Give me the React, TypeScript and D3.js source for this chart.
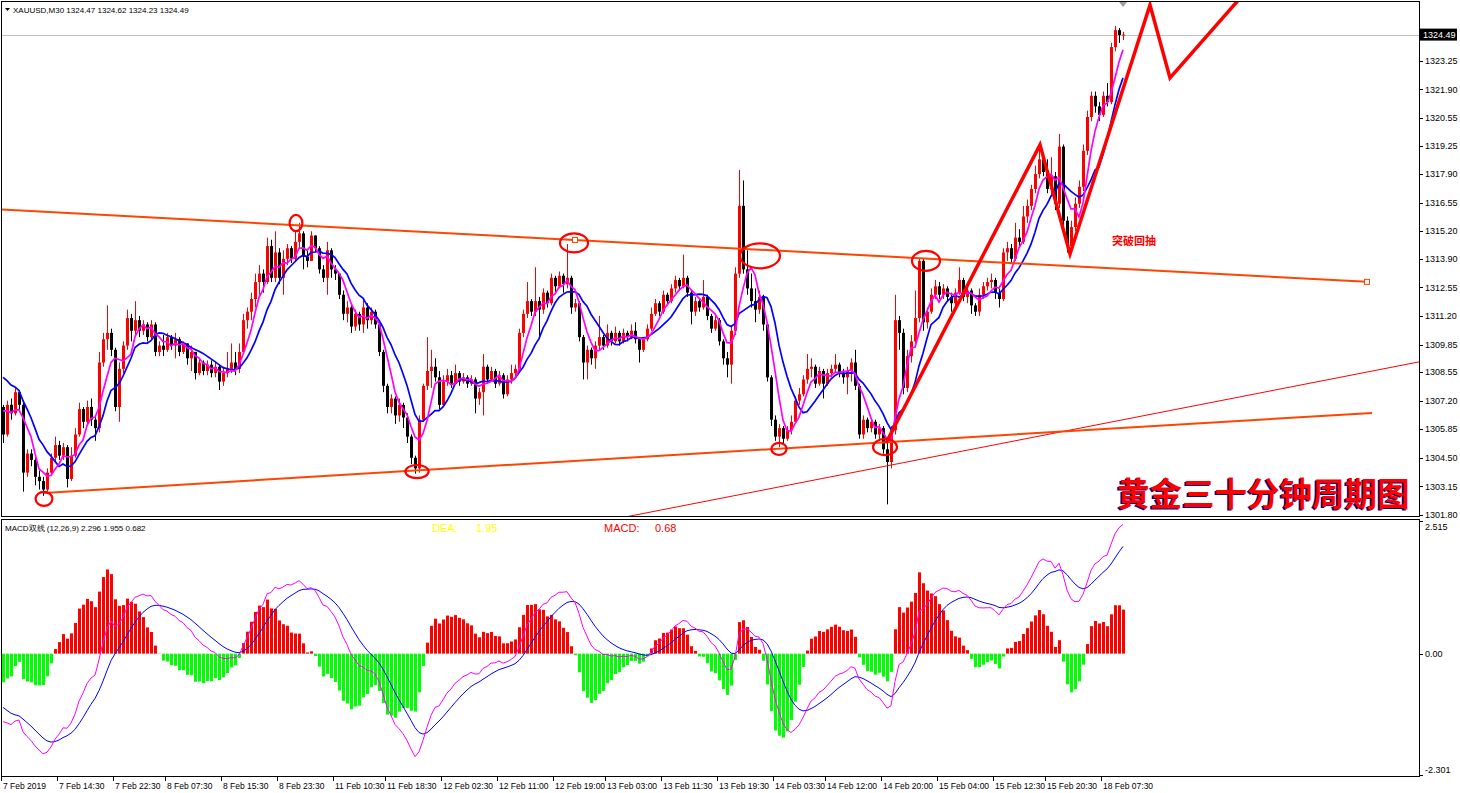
import React from 'react';
import * as d3 from 'd3';

// XAUUSD M30 candles (open = previous close)
const firstOpen = 1306.9;
const closes = [
  1305.6, 1307.0, 1306.6, 1307.6, 1307.0, 1303.8, 1304.7, 1304.4, 1303.6, 1303.4,
  1303.0, 1303.8, 1304.5, 1305.1, 1304.6, 1305.0, 1303.5, 1304.6, 1305.6, 1306.8,
  1306.2, 1306.9, 1306.3, 1305.9, 1309.0, 1310.1, 1310.4, 1309.6, 1306.9, 1308.7,
  1309.8, 1311.1, 1310.5, 1311.0, 1310.5, 1310.8, 1310.2, 1310.8, 1309.5, 1309.8,
  1309.6, 1310.2, 1309.8, 1310.1, 1309.5, 1309.9, 1309.2, 1309.5, 1308.5, 1309.0,
  1308.6, 1308.9, 1308.5, 1308.8, 1308.1, 1308.5, 1308.7, 1309.0, 1308.7, 1309.5,
  1311.0, 1311.4, 1312.0, 1312.8, 1313.2, 1312.8, 1314.5, 1313.0, 1314.2, 1313.0,
  1313.9, 1314.4, 1313.9, 1314.7, 1315.1, 1314.0, 1313.8, 1315.0, 1314.4, 1313.4,
  1313.0, 1314.3, 1313.4, 1313.2, 1312.2, 1311.3, 1311.6, 1310.7, 1311.3, 1310.8,
  1311.6, 1311.0, 1311.4, 1310.8, 1309.5, 1307.9, 1306.9, 1307.3, 1306.5, 1307.0,
  1306.4, 1305.5, 1304.5, 1304.0, 1306.3, 1307.9, 1308.6, 1308.8, 1308.3, 1307.0,
  1308.1, 1308.4, 1308.0, 1308.5, 1308.1, 1308.3, 1308.0, 1308.2, 1307.3, 1307.6,
  1308.8, 1308.2, 1308.6, 1308.0, 1308.4, 1307.5, 1308.2, 1308.5, 1308.7, 1310.4,
  1311.3, 1311.9, 1311.4, 1311.9, 1311.5, 1312.3, 1311.8, 1313.0, 1312.6, 1313.1,
  1312.7, 1313.0, 1311.6, 1311.8, 1310.2, 1309.0, 1309.6, 1309.2, 1309.8, 1310.2,
  1309.8, 1310.4, 1310.0, 1310.4, 1310.0, 1310.4, 1310.2, 1310.5, 1310.1, 1309.6,
  1310.1, 1310.6, 1311.3, 1311.8, 1311.4, 1312.2, 1311.9, 1312.5, 1312.9, 1312.6,
  1313.0, 1312.3, 1311.4, 1311.9, 1311.6, 1312.1, 1311.2, 1310.6, 1311.0, 1310.0,
  1309.2, 1308.9, 1310.5, 1313.2, 1316.4, 1313.4, 1312.5, 1311.9, 1311.5, 1312.1,
  1310.8, 1308.3, 1306.3, 1305.5, 1305.9, 1305.4, 1305.8, 1306.2, 1307.2, 1307.5,
  1308.2, 1308.7, 1308.8, 1308.0, 1308.6, 1308.0, 1308.5, 1308.7, 1308.9, 1308.5,
  1308.3, 1308.6, 1309.0, 1307.9, 1305.6, 1306.3, 1305.9, 1306.2, 1305.6, 1305.9,
  1304.9, 1304.3, 1305.8, 1311.0, 1310.4, 1307.8, 1309.3, 1310.0, 1311.1, 1313.8,
  1310.9, 1311.4, 1312.2, 1312.6, 1312.2, 1312.5, 1312.1, 1311.8, 1312.3, 1312.9,
  1312.1, 1312.4, 1311.7, 1311.4, 1312.2, 1312.6, 1312.8, 1312.9, 1312.3, 1312.0,
  1314.2, 1314.4, 1313.9, 1314.9, 1314.7, 1315.9, 1316.4, 1317.2, 1317.9, 1318.6,
  1318.0, 1317.2, 1317.8, 1316.5, 1319.2, 1315.7, 1314.5, 1315.4, 1316.5, 1317.3,
  1319.0, 1320.6, 1321.6, 1321.1, 1320.7, 1321.6, 1321.3, 1323.9, 1324.7, 1324.47,
  1324.49,
];
const highs = [
  1307.0, 1307.2, 1307.3, 1307.8, 1307.7, 1307.2, 1304.9, 1304.9, 1304.5, 1303.9,
  1303.6, 1304.0, 1304.7, 1305.5, 1305.3, 1305.2, 1305.1, 1305.0, 1305.9, 1307.1,
  1306.9, 1307.2, 1307.3, 1306.5, 1309.5, 1310.4, 1311.7, 1310.6, 1309.7, 1309.0,
  1310.0, 1311.5, 1311.3, 1311.9, 1311.2, 1311.0, 1310.9, 1311.0, 1310.9, 1310.0,
  1310.3, 1310.4, 1310.3, 1310.4, 1310.2, 1310.0, 1309.9, 1309.8, 1309.5, 1309.2,
  1309.1, 1309.1, 1309.1, 1309.0, 1308.9, 1308.8, 1309.5, 1309.9, 1309.5, 1309.9,
  1311.3, 1311.6, 1312.3, 1313.2, 1313.6, 1313.4, 1314.9, 1314.8, 1315.2, 1314.4,
  1314.3, 1314.6, 1314.5, 1315.2, 1315.6, 1315.2, 1314.3, 1315.2, 1315.0, 1314.5,
  1313.6, 1314.7, 1314.4, 1313.6, 1313.2, 1312.4, 1311.9, 1311.7, 1311.5, 1311.4,
  1312.0, 1311.8, 1311.6, 1311.5, 1311.0, 1309.6, 1308.0, 1307.5, 1307.4, 1307.3,
  1307.1, 1306.6, 1305.6, 1304.6, 1306.5, 1308.0, 1310.2, 1309.6, 1309.2, 1308.6,
  1308.4, 1308.7, 1308.6, 1308.9, 1308.6, 1308.5, 1308.4, 1308.4, 1308.3, 1307.8,
  1309.4, 1308.9, 1308.8, 1308.7, 1308.6, 1308.5, 1308.4, 1308.9, 1308.9, 1310.6,
  1311.5, 1312.8, 1312.0, 1313.5, 1312.1, 1312.5, 1312.4, 1313.2, 1313.1, 1313.3,
  1313.2, 1314.6, 1313.1, 1312.0, 1311.9, 1310.3, 1309.8, 1309.7, 1310.0, 1311.2,
  1310.3, 1310.8, 1310.5, 1310.7, 1310.5, 1310.6, 1310.5, 1310.8, 1310.9, 1310.2,
  1310.2, 1310.8, 1311.6, 1312.0, 1311.9, 1312.4, 1312.3, 1312.7, 1313.1, 1313.0,
  1314.1, 1313.1, 1312.4, 1312.1, 1312.0, 1312.9, 1312.2, 1311.3, 1311.2, 1311.1,
  1310.1, 1309.5, 1310.7, 1313.5, 1318.1, 1317.6, 1314.3, 1313.2, 1312.5, 1312.4,
  1312.2, 1310.9, 1308.4, 1306.5, 1306.1, 1306.0, 1306.0, 1306.5, 1307.4, 1307.8,
  1308.4, 1309.4, 1309.2, 1308.9, 1308.8, 1308.7, 1308.7, 1308.9, 1309.4, 1309.0,
  1308.7, 1308.8, 1309.2, 1309.6, 1308.0, 1306.5, 1306.4, 1306.4, 1306.3, 1306.1,
  1306.0, 1305.2, 1306.0, 1312.2, 1311.2, 1310.6, 1309.6, 1310.3, 1312.4, 1313.9,
  1313.9, 1311.6, 1312.5, 1312.9, 1312.8, 1312.7, 1312.6, 1312.3, 1312.5, 1313.5,
  1313.0, 1312.6, 1312.5, 1311.8, 1312.5, 1312.8, 1313.0, 1313.2, 1313.0, 1312.5,
  1314.4, 1314.7, 1314.6, 1315.6, 1315.3, 1316.4, 1316.7, 1317.4, 1318.3, 1319.3,
  1318.9, 1318.6, 1318.7, 1318.0, 1319.8, 1319.3, 1315.9, 1315.7, 1316.8, 1317.6,
  1319.3, 1320.9, 1321.8, 1321.8, 1321.3, 1321.8, 1322.2, 1324.1, 1324.9, 1324.8,
  1324.62,
];
const lows = [
  1305.2, 1305.5, 1306.3, 1306.5, 1306.7, 1302.9, 1303.6, 1304.1, 1303.2, 1303.0,
  1302.7, 1302.9, 1303.7, 1304.3, 1304.4, 1304.4, 1303.1, 1303.4, 1304.5, 1305.5,
  1305.9, 1306.0, 1306.0, 1305.3, 1305.7, 1308.8, 1309.6, 1309.3, 1306.7, 1306.2,
  1308.5, 1309.6, 1310.0, 1310.3, 1310.2, 1310.3, 1310.0, 1310.1, 1309.3, 1309.3,
  1309.3, 1309.5, 1309.6, 1309.2, 1309.3, 1309.4, 1308.9, 1308.6, 1308.2, 1308.4,
  1308.4, 1308.4, 1308.3, 1308.3, 1307.7, 1307.9, 1308.3, 1308.5, 1308.4, 1308.5,
  1309.4, 1310.6, 1311.0, 1311.6, 1312.2, 1312.3, 1312.7, 1312.8, 1312.8, 1312.7,
  1312.2, 1313.6, 1313.7, 1313.8, 1314.4, 1313.4, 1313.5, 1313.8, 1314.2, 1313.2,
  1312.8, 1312.2, 1313.0, 1312.9, 1312.0, 1311.0, 1310.9, 1310.4, 1310.5, 1310.5,
  1310.4, 1310.6, 1310.8, 1310.6, 1309.3, 1307.6, 1306.6, 1306.6, 1306.1, 1306.2,
  1305.9, 1305.2, 1304.2, 1303.75, 1303.8, 1306.2, 1307.7, 1307.8, 1308.1, 1306.8,
  1306.9, 1307.9, 1307.8, 1308.0, 1307.9, 1308.0, 1307.8, 1307.9, 1306.6, 1307.0,
  1306.5, 1308.0, 1308.1, 1307.8, 1307.9, 1307.3, 1307.4, 1308.0, 1308.3, 1308.5,
  1310.2, 1311.1, 1311.2, 1311.2, 1310.1, 1311.3, 1311.6, 1311.7, 1312.3, 1312.5,
  1312.3, 1312.5, 1311.3, 1311.4, 1310.0, 1308.2, 1308.2, 1308.9, 1308.7, 1309.6,
  1309.6, 1309.7, 1309.8, 1309.9, 1309.8, 1309.9, 1310.0, 1310.1, 1309.9, 1309.0,
  1309.5, 1310.0, 1310.5, 1311.2, 1311.2, 1311.3, 1311.7, 1311.8, 1312.3, 1312.4,
  1312.5, 1312.1, 1310.8, 1311.2, 1311.4, 1311.5, 1311.0, 1310.4, 1310.5, 1309.8,
  1308.9, 1308.3, 1308.0, 1310.3, 1313.0, 1313.2, 1312.2, 1311.6, 1310.9, 1311.3,
  1310.5, 1308.1, 1306.0, 1305.3, 1305.0, 1305.2, 1305.3, 1305.6, 1306.1, 1307.0,
  1307.4, 1308.0, 1308.3, 1307.8, 1307.9, 1307.3, 1307.9, 1308.3, 1308.5, 1308.3,
  1308.0, 1307.5, 1308.1, 1307.7, 1305.4, 1305.4, 1305.7, 1305.7, 1305.4, 1305.3,
  1304.7, 1302.3, 1304.0, 1305.6, 1309.6, 1307.5, 1307.6, 1309.0, 1309.9, 1310.9,
  1310.5, 1310.6, 1311.3, 1312.0, 1312.0, 1312.0, 1311.9, 1311.4, 1311.6, 1312.2,
  1311.9, 1311.8, 1311.3, 1311.2, 1311.2, 1312.0, 1312.4, 1312.5, 1312.0, 1311.6,
  1311.9, 1313.8, 1313.7, 1313.8, 1314.5, 1314.6, 1315.6, 1316.2, 1317.0, 1317.7,
  1317.8, 1317.0, 1316.9, 1316.2, 1316.3, 1315.5, 1314.2, 1314.3, 1315.2, 1316.3,
  1317.1, 1318.8, 1320.4, 1320.8, 1320.4, 1320.6, 1321.1, 1321.2, 1323.7, 1324.1,
  1324.23,
];

const timeLabels = [
  '7 Feb 2019', '7 Feb 14:30', '7 Feb 22:30', '8 Feb 07:30', '8 Feb 15:30', '8 Feb 23:30',
  '11 Feb 10:30', '11 Feb 18:30', '12 Feb 02:30', '12 Feb 11:00', '12 Feb 19:00',
  '13 Feb 03:00', '13 Feb 11:30', '13 Feb 19:30', '14 Feb 03:30', '14 Feb 12:00',
  '14 Feb 20:00', '15 Feb 04:00', '15 Feb 12:30', '15 Feb 20:30', '18 Feb 07:30',
];
const timeLabelBars = [0, 14, 28, 41, 55, 69, 83, 96, 110, 124, 138, 151, 165, 179, 193, 206, 220, 234, 248, 261, 275];
const priceTicks = [
  1323.25, 1321.9, 1320.55, 1319.25, 1317.9, 1316.55, 1315.2, 1313.9, 1312.55,
  1311.2, 1309.85, 1308.55, 1307.2, 1305.85, 1304.5, 1303.15, 1301.8,
];
const macdTicks = [2.515, 0, -2.301];
const macdTickText = ['2.515', '0.00', '-2.301'];
const lastPrice = 1324.49;

// indicator state carried in from bars left of the screen
const maSeeds = { fast: 1307.0, slow: 1308.6 };
const macdSeeds = { ema12: 1309.0, ema26: 1310.1, dea: -0.95 };

// hand drawn objects, [bar, price]
const upperTrend = [[143, 1314.79], [341, 1312.81]];
const lowerTrend = [[10.25, 1302.84], [342.25, 1306.62]];
const thinRay = [[220.75, 1304.11], [354, 1309.03]];
const zigzag = [[220.75, 1305.2], [259.25, 1319.28], [266.75, 1314.13], [286.75, 1325.89], [291.75, 1322.44], [312, 1326.8]];
// [bar, price, half width in bars, half height in price]
const ellipses = [
  [10.25, 1302.56, 2.1, 0.33],
  [73.25, 1315.59, 1.6, 0.38],
  [142.75, 1314.65, 3.5, 0.45],
  [103.5, 1303.85, 2.9, 0.31],
  [189.25, 1314.04, 5, 0.59],
  [194, 1304.92, 1.9, 0.28],
  [220.5, 1305.01, 3, 0.38],
  [230.75, 1313.8, 3.5, 0.47],
];

const font = 'Liberation Sans, Arial, sans-serif';

function sma(values, period, seed) {
  return values.map((_, i) => {
    let s = 0;
    for (let k = i - period + 1; k <= i; k++) s += k >= 0 ? values[k] : seed;
    return s / period;
  });
}

export default function App() {
  const opens = closes.map((c, i) => (i === 0 ? firstOpen : closes[i - 1]));

  const x = d3.scaleLinear().domain([0, 280]).range([3, 1123]);
  const y = d3.scaleLinear().domain([1301.75, 1326.03]).range([516, 2]);
  const ym = d3.scaleLinear().domain([-2.301, 2.515]).range([775, 521]);

  const maFast = sma(closes, 5, maSeeds.fast);
  const maSlow = sma(closes, 10, maSeeds.slow);

  let e12 = macdSeeds.ema12, e26 = macdSeeds.ema26, dea = macdSeeds.dea;
  const dif: number[] = [], deaArr: number[] = [], hist: number[] = [];
  closes.forEach((c) => {
    e12 += (c - e12) * 2 / 13;
    e26 += (c - e26) * 2 / 27;
    const d = e12 - e26;
    dea += (d - dea) * 2 / 10;
    dif.push(d);
    deaArr.push(dea);
    hist.push(2 * (d - dea));
  });

  const priceLine = d3.line<number>().x((_, i) => x(i)).y((v) => y(v));
  const macdLine = d3.line<number>().x((_, i) => x(i)).y((v) => ym(v));
  const objLine = d3.line<number[]>().x((d) => x(d[0])).y((d) => y(d[1]));

  const extend = (pts, from, to) => {
    const [[a0, p0], [a1, p1]] = pts;
    const k = (p1 - p0) / (a1 - a0);
    return [[from, p0 + (from - a0) * k], [to, p0 + (to - a0) * k]];
  };

  // top/bottom labels of the sub window sit inside the pane like MT4 does
  const macdLabelShift = [6, 0, -5];

  return (
    <div style={{ position: 'absolute', left: 0, top: 0, width: 1460, height: 793, background: '#fff' }}>
      <svg width={1460} height={793} style={{ display: 'block' }}>
        <defs>
          <clipPath id="mainClip"><rect x={2} y={2} width={1417} height={514} /></clipPath>
          <clipPath id="macdClip"><rect x={2} y={520} width={1417} height={256} /></clipPath>
        </defs>
        <rect x={0} y={0} width={1460} height={793} fill="#fff" />

        {/* price pane */}
        <g clipPath="url(#mainClip)">
          <line x1={2} x2={1419} y1={Math.round(y(lastPrice)) + 0.5} y2={Math.round(y(lastPrice)) + 0.5} stroke="#c0c0c0" />
          {closes.map((c, i) => {
            const o = opens[i];
            const up = c >= o;
            const col = up ? '#ff0000' : '#000000';
            const h = Math.max(highs[i], o, c), l = Math.min(lows[i], o, c);
            const top = y(Math.max(o, c)), bot = y(Math.min(o, c));
            return (
              <g key={i}>
                <line x1={x(i) + 0.5} x2={x(i) + 0.5} y1={y(h)} y2={y(l)} stroke={col} strokeWidth={1} />
                <rect x={x(i) - 1} y={top} width={3} height={Math.max(1, bot - top)} fill={col} />
              </g>
            );
          })}
          <path d={priceLine(maSlow) || ''} fill="none" stroke="#0000ff" strokeWidth={1.7} />
          <path d={priceLine(maFast) || ''} fill="none" stroke="#ff00ff" strokeWidth={1.7} />

          <path d={objLine(extend(thinRay, 100, 360)) || ''} fill="none" stroke="#ff0000" strokeWidth={1} />
          <path d={objLine(extend(upperTrend, -2, upperTrend[1][0])) || ''} fill="none" stroke="#ff4500" strokeWidth={2} />
          <path d={objLine(lowerTrend) || ''} fill="none" stroke="#ff4500" strokeWidth={2} />
          {upperTrend.map((d, i) => (
            <rect key={i} x={x(d[0]) - 2.5} y={y(d[1]) - 2.5} width={5} height={5} fill="#fff" stroke="#ff4500" strokeWidth={1} />
          ))}
          <path d={objLine(zigzag) || ''} fill="none" stroke="#ff0000" strokeWidth={3.5} strokeLinejoin="miter" />
          {ellipses.map((e, i) => (
            <ellipse key={i} cx={x(e[0])} cy={y(e[1])} rx={x(e[2]) - x(0)} ry={y(e[1] - e[3]) - y(e[1])}
              fill="none" stroke="#ff0000" strokeWidth={2.2} />
          ))}
          <text x={x(282.75)} y={y(1314.79)} fill="#ff0000" fontSize={11} fontWeight="bold"
            fontFamily="Noto Sans CJK SC, sans-serif" textAnchor="middle" dominantBaseline="central">突破回抽</text>
          <text x={x(278.5) - 1.5} y={y(1302.23) + 1.5} fill="#000080" fontSize={32.5} fontWeight="bold"
            fontFamily="Noto Sans CJK SC, sans-serif">黄金三十分钟周期图</text>
          <text x={x(278.5)} y={y(1302.23)} fill="#ff0000" fontSize={32.5} fontWeight="bold"
            fontFamily="Noto Sans CJK SC, sans-serif">黄金三十分钟周期图</text>
        </g>
        <path d={`M${x(280) - 4},2 L${x(280) + 4},2 L${x(280)},7 Z`} fill="#a0a0a0" />
        <rect x={1.5} y={1.5} width={1418} height={515} fill="none" stroke="#000" />

        {/* header */}
        <path d="M5,8 L10,8 L7.5,11 Z" fill="#000" />
        <text x={13} y={13} fontSize={8} fontFamily={font} fill="#000">XAUUSD,M30  1324.47 1324.62 1324.23 1324.49</text>

        {/* price axis */}
        {priceTicks.map((p) => (
          <g key={p}>
            <line x1={1419} x2={1423} y1={Math.round(y(p)) + 0.5} y2={Math.round(y(p)) + 0.5} stroke="#000" />
            <text x={1425} y={y(p)} dy="0.35em" fontSize={9} fontFamily={font} fill="#000">{p.toFixed(2)}</text>
          </g>
        ))}
        <rect x={1420} y={y(lastPrice) - 6} width={37} height={12} fill="#000" />
        <text x={1423} y={y(lastPrice)} dy="0.35em" fontSize={9} fontFamily={font} fill="#fff">{lastPrice.toFixed(2)}</text>

        {/* MACD pane */}
        <g clipPath="url(#macdClip)">
          {hist.map((v, i) => (
            <rect key={i} x={x(i) - 1} y={Math.min(ym(v), ym(0))} width={3}
              height={Math.abs(ym(v) - ym(0))} fill={v >= 0 ? '#ff0000' : '#00ff00'} />
          ))}
          <path d={macdLine(deaArr) || ''} fill="none" stroke="#0000ff" strokeWidth={1} />
          <path d={macdLine(dif) || ''} fill="none" stroke="#ff00ff" strokeWidth={1} />
        </g>
        <rect x={1.5} y={519.5} width={1418} height={257} fill="none" stroke="#000" />
        <text x={5} y={531} fontSize={8} fontFamily={font} fill="#000">MACD双线 (12,26,9) 2.296 1.955 0.682</text>
        <text x={432} y={532} fontSize={11} fontFamily={font} fill="#ffff00">DEA:</text>
        <text x={476} y={532} fontSize={11} fontFamily={font} fill="#ffff00">1.95</text>
        <text x={604} y={532} fontSize={11} fontFamily={font} fill="#ff0000">MACD:</text>
        <text x={655} y={532} fontSize={11} fontFamily={font} fill="#ff0000">0.68</text>
        {macdTicks.map((v, i) => (
          <g key={i}>
            <line x1={1419} x2={1423} y1={Math.round(ym(v)) + 0.5} y2={Math.round(ym(v)) + 0.5} stroke="#000" />
            <text x={1425} y={ym(v) + macdLabelShift[i]} dy="0.35em" fontSize={9} fontFamily={font} fill="#000">{macdTickText[i]}</text>
          </g>
        ))}

        {/* time axis */}
        {timeLabels.map((t, i) => {
          const tx = Math.round(x(timeLabelBars[i])) - 1.5;
          return (
            <g key={t}>
              <line x1={tx} x2={tx} y1={777} y2={781} stroke="#000" />
              <text x={tx + 1.5} y={789} fontSize={8.5} fontFamily={font} fill="#000">{t}</text>
            </g>
          );
        })}
      </svg>
    </div>
  );
}
